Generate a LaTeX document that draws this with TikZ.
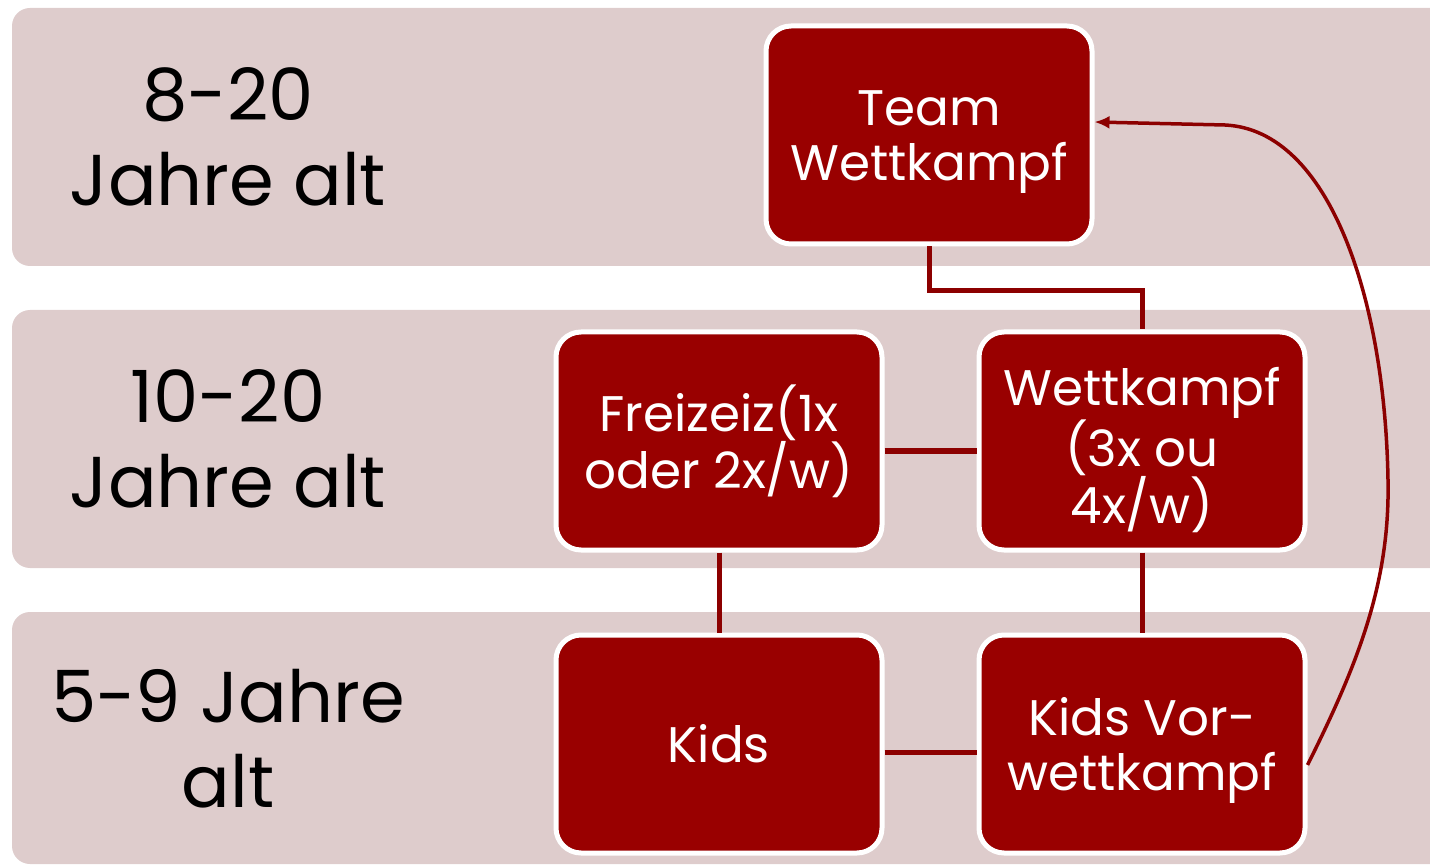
\documentclass[tikz,border=0pt]{standalone}
\usepackage{fontspec}
\setmainfont{Poppins}
\usetikzlibrary{arrows.meta}
\definecolor{bandc}{HTML}{DECCCC}
\definecolor{boxred}{HTML}{990000}
\definecolor{linec}{HTML}{8C0000}
\newcommand\boxtxt[2][6pt]{\raisebox{-#1}[\height][\depth]{\parbox{320pt}{\centering #2}}}
\begin{document}
\begin{tikzpicture}[x=1pt,y=-1pt,
  band/.style={fill=bandc, rounded corners=18pt},
  agelabel/.style={align=center, text=black, font=\fontsize{72}{85}\selectfont},
  box/.style={draw=white, line width=5pt, fill=boxred, rounded corners=25pt,
    minimum width=326pt, minimum height=218pt, align=center, text=white,
    font=\fontsize{50}{55}\selectfont, inner sep=0pt},
  conn/.style={draw=linec, line width=5pt},
  curv/.style={draw=linec, line width=3.5pt}]
\useasboundingbox (0,0) rectangle (1430,866);
\fill[band] (12,8) rectangle (1448,266);
\fill[band] (12,310) rectangle (1448,568);
\fill[band] (12,612) rectangle (1448,864);
\node[agelabel] (l1) at (228,137) {8-20\\Jahre alt};
\node[agelabel] (l2) at (228,439) {10-20\\Jahre alt};
\node[agelabel] (l3) at (228,739) {5-9 Jahre\\alt};
\node[box] (team) at (929,135) {\boxtxt[7pt]{Team\\Wettkampf}};
\node[box] (frei) at (719,441) {\boxtxt[0pt]{Freizeiz(1x\\oder 2x/w)}};
\node[box] (wett) at (1142,441) {\boxtxt[9pt]{Wettkampf\\(3x ou\\4x/w)}};
\node[box] (kids) at (719,744) {\boxtxt[0pt]{Kids}};
\node[box] (kidsv) at (1142,744) {\boxtxt[6pt]{Kids Vor-\\wettkampf}};
\draw[conn] (team.south) -- ++(0,44) -| (wett.north);
\draw[conn] ([yshift=-10pt]frei.east) -- ([yshift=-10pt]wett.west);
\draw[conn] (frei.south) -- (kids.north);
\draw[conn] (wett.south) -- (kidsv.north);
\draw[conn] ([yshift=-8pt]kids.east) -- ([yshift=-8pt]kidsv.west);
\coordinate (c1) at (1388,480);
\coordinate (c2) at (1225,125);
\draw[curv, -{Latex[length=15pt,width=13pt]}] ([yshift=-21pt]kidsv.east) .. controls (1360,660) and (1390,580) .. (c1) .. controls (1385,300) and (1330,130) .. (c2) -- ([yshift=13pt]team.east);
\end{tikzpicture}
\end{document}
